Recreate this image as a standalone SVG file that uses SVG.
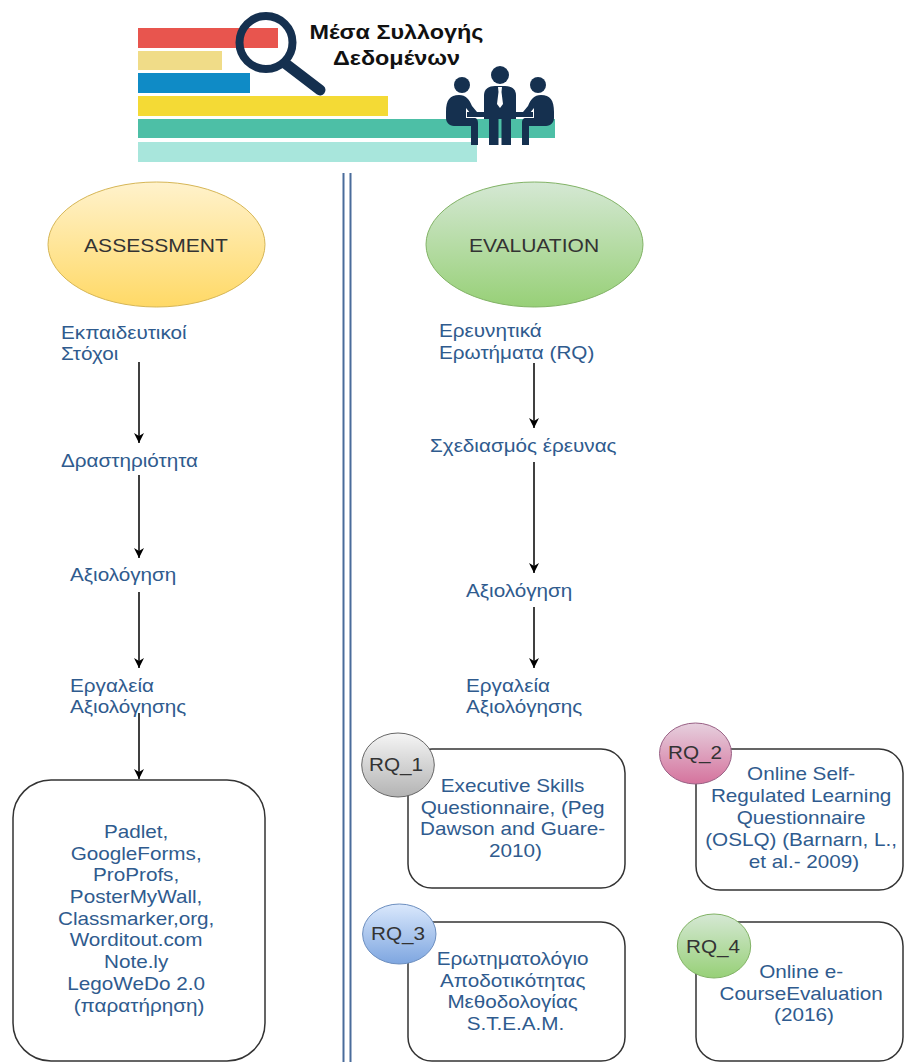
<svg xmlns="http://www.w3.org/2000/svg" width="904" height="1062" viewBox="0 0 904 1062">
  <defs>
    <linearGradient id="gYellow" x1="0" y1="0" x2="0" y2="1">
      <stop offset="0" stop-color="#fff2cc"/>
      <stop offset="1" stop-color="#ffd966"/>
    </linearGradient>
    <linearGradient id="gGreen" x1="0" y1="0" x2="0" y2="1">
      <stop offset="0" stop-color="#d5e8d4"/>
      <stop offset="1" stop-color="#97d077"/>
    </linearGradient>
    <linearGradient id="gGray" x1="0" y1="0" x2="0" y2="1">
      <stop offset="0" stop-color="#f5f5f5"/>
      <stop offset="1" stop-color="#b3b3b3"/>
    </linearGradient>
    <linearGradient id="gPink" x1="0" y1="0" x2="0" y2="1">
      <stop offset="0" stop-color="#e6d0de"/>
      <stop offset="1" stop-color="#d5739d"/>
    </linearGradient>
    <linearGradient id="gBlue" x1="0" y1="0" x2="0" y2="1">
      <stop offset="0" stop-color="#dae8fc"/>
      <stop offset="1" stop-color="#7ea6e0"/>
    </linearGradient>
    <marker id="arrow" viewBox="0 0 10 10" refX="10" refY="5" markerWidth="10" markerHeight="10" markerUnits="userSpaceOnUse" orient="auto">
      <path d="M0,0 L10,5 L0,10 L3,5 Z" fill="#000"/>
    </marker>
  </defs>
  <style>
    .lbl { font-family: "Liberation Sans", Arial, sans-serif; font-size: 18px; fill: #2f5b8e; }
    .dark { font-family: "Liberation Sans", Arial, sans-serif; font-size: 18px; fill: #333333; }
    .title { font-family: "Liberation Sans", Arial, sans-serif; font-size: 20px; font-weight: bold; fill: #111111; }
    .box { fill: #ffffff; stroke: #333333; stroke-width: 1.5; }
    .edge { fill: none; stroke: #000000; stroke-width: 1.5; marker-end: url(#arrow); }
    .navy { fill: #15304f; }
  </style>

  <rect width="904" height="1062" fill="#ffffff"/>

  <!-- header banner -->
  <g id="banner">
    <rect x="138" y="28" width="140" height="20" fill="#e8554e"/>
    <rect x="138" y="51" width="84" height="19" fill="#f0dc88"/>
    <rect x="138" y="73" width="112" height="20" fill="#0f8bc6"/>
    <rect x="138" y="96" width="250" height="20" fill="#f4da35"/>
    <rect x="138" y="119" width="417" height="19" fill="#4dbfa6"/>
    <rect x="138" y="142" width="339" height="20" fill="#a8e6dc"/>
    <!-- magnifier -->
    <circle cx="266" cy="42.5" r="26.5" fill="none" stroke="#15304f" stroke-width="8"/>
    <line x1="286" y1="64" x2="320" y2="90" stroke="#15304f" stroke-width="11" stroke-linecap="round"/>
    <!-- meeting people -->
    <g id="people">
      <rect class="navy" x="467" y="112" width="66" height="5"/>
      <g id="person-left">
        <circle class="navy" cx="462" cy="85" r="8"/>
        <path class="navy" d="M446,112 C446,100 450,95 459,95 C466,95 469,99 472,106 L477,112 L471,114 L466,108 L466,118 L474,118 C477,118 478,120 478,123 L478,145 L471,145 L471,126 L454,126 C449,126 446,122 446,118 Z"/>
      </g>
      <use href="#person-left" transform="translate(1000,0) scale(-1,1)"/>
      <g id="person-middle">
        <circle class="navy" cx="500" cy="75" r="9"/>
        <path class="navy" d="M484,119 L484,95 C484,89 489,86 495,86 L505,86 C511,86 516,89 516,95 L516,119 Z"/>
        <path d="M498,87 L502,87 L501.5,92 L503,104 L500,108 L497,104 L498.5,92 Z" fill="#ffffff"/>
        <rect class="navy" x="489" y="117" width="9.5" height="28"/>
        <rect class="navy" x="501.5" y="117" width="9.5" height="28"/>
      </g>
    </g>
    <text class="title" text-anchor="middle" transform="matrix(1.17 0 0 1 396.5 39)">Μέσα Συλλογής</text>
    <text class="title" text-anchor="middle" transform="matrix(1.17 0 0 1 396.5 65)">Δεδομένων</text>
  </g>

  <!-- column divider -->
  <g id="divider" stroke="#4a6c9b" stroke-width="2">
    <line x1="343.5" y1="173" x2="343.5" y2="1062"/>
    <line x1="350.5" y1="173" x2="350.5" y2="1062"/>
  </g>

  <!-- connectors -->
  <g id="connectors">
    <line class="edge" x1="139" y1="362" x2="139" y2="443"/>
    <line class="edge" x1="139" y1="475" x2="139" y2="558"/>
    <line class="edge" x1="139" y1="592" x2="139" y2="668"/>
    <line class="edge" x1="139" y1="713" x2="139" y2="779"/>
    <line class="edge" x1="534" y1="363" x2="534" y2="428"/>
    <line class="edge" x1="534" y1="462" x2="534" y2="573"/>
    <line class="edge" x1="534" y1="607" x2="534" y2="668"/>
  </g>

  <!-- assessment column -->
  <g id="assessment">
    <ellipse cx="156.5" cy="244.5" rx="108.5" ry="62.5" fill="url(#gYellow)" stroke="#d6b656" stroke-width="1"/>
    <text class="dark" text-anchor="middle" transform="matrix(1.17 0 0 1 156 252)">ASSESSMENT</text>
  </g>
  <g id="a-goals">
    <text class="lbl" transform="matrix(1.15 0 0 1 61 339)"><tspan x="0">Εκπαιδευτικοί</tspan><tspan x="0" dy="21">Στόχοι</tspan></text>
  </g>
  <g id="a-activity">
    <text class="lbl" transform="matrix(1.15 0 0 1 61 467)">Δραστηριότητα</text>
  </g>
  <g id="a-assess">
    <text class="lbl" transform="matrix(1.15 0 0 1 70 581)">Αξιολόγηση</text>
  </g>
  <g id="a-tools">
    <text class="lbl" transform="matrix(1.15 0 0 1 70 692)"><tspan x="0">Εργαλεία</tspan><tspan x="0" dy="21.5">Αξιολόγησης</tspan></text>
  </g>
  <g id="a-toollist">
    <rect class="box" x="13" y="780" width="252" height="281" rx="38" ry="38"/>
    <text class="lbl" text-anchor="middle" transform="matrix(1.15 0 0 1 139 838)">
      <tspan x="0">Padlet,</tspan>
      <tspan x="0" dy="21.7">GoogleForms,</tspan>
      <tspan x="0" dy="21.7">ProProfs,</tspan>
      <tspan x="0" dy="21.7">PosterMyWall,</tspan>
      <tspan x="0" dy="21.7">Classmarker,org,</tspan>
      <tspan x="0" dy="21.7">Worditout.com</tspan>
      <tspan x="0" dy="21.7">Note.ly</tspan>
      <tspan x="0" dy="21.7">LegoWeDo 2.0</tspan>
      <tspan x="0" dy="21.7">(παρατήρηση)</tspan>
    </text>
  </g>

  <!-- evaluation column -->
  <g id="evaluation">
    <ellipse cx="534.5" cy="244.5" rx="108.5" ry="62.5" fill="url(#gGreen)" stroke="#82b366" stroke-width="1"/>
    <text class="dark" text-anchor="middle" transform="matrix(1.17 0 0 1 534 252)">EVALUATION</text>
  </g>
  <g id="e-rq">
    <text class="lbl" transform="matrix(1.15 0 0 1 439 337)"><tspan x="0">Ερευνητικά</tspan><tspan x="0" dy="22">Ερωτήματα (RQ)</tspan></text>
  </g>
  <g id="e-design">
    <text class="lbl" transform="matrix(1.15 0 0 1 430 452)">Σχεδιασμός έρευνας</text>
  </g>
  <g id="e-assess">
    <text class="lbl" transform="matrix(1.15 0 0 1 466 597)">Αξιολόγηση</text>
  </g>
  <g id="e-tools">
    <text class="lbl" transform="matrix(1.15 0 0 1 466 692)"><tspan x="0">Εργαλεία</tspan><tspan x="0" dy="21.5">Αξιολόγησης</tspan></text>
  </g>

  <g id="rq1">
    <rect class="box" x="408" y="749" width="217" height="139" rx="24" ry="24"/>
    <text class="lbl" text-anchor="middle" transform="matrix(1.15 0 0 1 515.5 792)">
      <tspan x="0">Executive Skills</tspan>
      <tspan x="0" dy="21.7">Questionnaire, (Peg</tspan>
      <tspan x="0" dy="21.7">Dawson and Guare-</tspan>
      <tspan x="0" dy="21.7">2010)</tspan>
    </text>
    <ellipse cx="398" cy="765" rx="36.3" ry="32" fill="url(#gGray)" stroke="#666666" stroke-width="1"/>
    <text class="dark" text-anchor="middle" transform="matrix(1.15 0 0 1 396 771)">RQ_1</text>
  </g>

  <g id="rq2">
    <rect class="box" x="696" y="749" width="207" height="141" rx="24" ry="24"/>
    <text class="lbl" text-anchor="middle" transform="matrix(1.15 0 0 1 804 780)">
      <tspan x="0">Online Self-</tspan>
      <tspan x="0" dy="22">Regulated Learning</tspan>
      <tspan x="0" dy="22">Questionnaire</tspan>
      <tspan x="0" dy="22">(OSLQ) (Barnarn, L.,</tspan>
      <tspan x="0" dy="22">et al.- 2009)</tspan>
    </text>
    <ellipse cx="695.5" cy="753.5" rx="36" ry="30.5" fill="url(#gPink)" stroke="#996185" stroke-width="1"/>
    <text class="dark" text-anchor="middle" transform="matrix(1.15 0 0 1 695 759)">RQ_2</text>
  </g>

  <g id="rq3">
    <rect class="box" x="408" y="922" width="217" height="139" rx="24" ry="24"/>
    <text class="lbl" text-anchor="middle" transform="matrix(1.15 0 0 1 515.5 965)">
      <tspan x="0">Ερωτηματολόγιο</tspan>
      <tspan x="0" dy="21.7">Αποδοτικότητας</tspan>
      <tspan x="0" dy="21.7">Μεθοδολογίας</tspan>
      <tspan x="0" dy="21.7">S.T.E.A.M.</tspan>
    </text>
    <ellipse cx="399.3" cy="934" rx="36.7" ry="30" fill="url(#gBlue)" stroke="#6c8ebf" stroke-width="1"/>
    <text class="dark" text-anchor="middle" transform="matrix(1.15 0 0 1 398 940)">RQ_3</text>
  </g>

  <g id="rq4">
    <rect class="box" x="696" y="922" width="207" height="139" rx="24" ry="24"/>
    <text class="lbl" text-anchor="middle" transform="matrix(1.15 0 0 1 804 978)">
      <tspan x="0">Online e-</tspan>
      <tspan x="0" dy="21.7">CourseEvaluation</tspan>
      <tspan x="0" dy="21.7">(2016)</tspan>
    </text>
    <ellipse cx="714" cy="946" rx="36.7" ry="32" fill="url(#gGreen)" stroke="#82b366" stroke-width="1"/>
    <text class="dark" text-anchor="middle" transform="matrix(1.15 0 0 1 713 953)">RQ_4</text>
  </g>
</svg>
